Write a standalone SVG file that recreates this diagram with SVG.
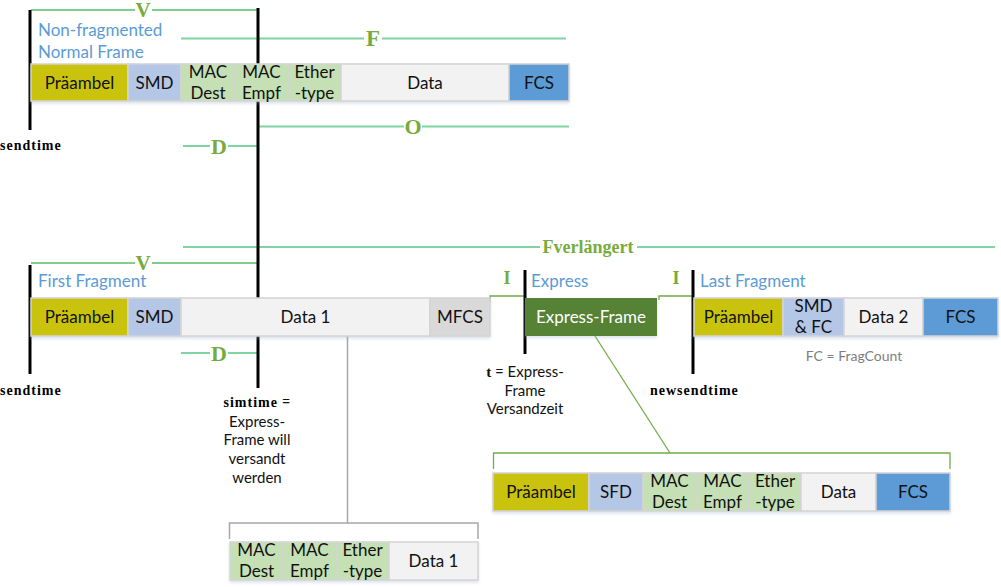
<svg xmlns="http://www.w3.org/2000/svg" width="1001" height="587" viewBox="0 0 1001 587">
<style>
.cell{stroke:#D4D4D4;stroke-width:1.5}
.pre{fill:#C9C30A}.smd{fill:#B4C7E7}.mac{fill:#C5E0B4}.dat{fill:#F2F2F2}.fcs{fill:#5B9BD5}.mfcs{fill:#D9D9D9}.exp{fill:#548235}
.t{font-family:Lato,"Liberation Sans",sans-serif;font-size:17px;fill:#111;text-anchor:middle}
.tw{font-family:Lato,"Liberation Sans",sans-serif;font-size:17px;fill:#fff;text-anchor:middle}
.blue{font-family:Lato,"Liberation Sans",sans-serif;font-size:17px;fill:#5B9BD5}
.lbl{font-family:"Liberation Serif",serif;font-weight:bold;fill:#77AC3C;text-anchor:middle}
.st{font-family:"Liberation Serif",serif;font-weight:bold;font-size:14px;fill:#000;letter-spacing:1px}
.note{font-family:Lato,"Liberation Sans",sans-serif;font-size:15px;fill:#111;text-anchor:middle}
.bar{stroke:#000;stroke-width:3}
.mint{stroke:#80D4A0;stroke-width:2;fill:none}
.dk{stroke:#52BE6A;stroke-width:1.5;fill:none}
.ol{stroke:#70AD47;stroke-width:1.3;fill:none}
.gr{stroke:#A6A6A6;stroke-width:1.5;fill:none}
.gap{fill:#fff}
</style>
<defs>
<filter id="sh" x="-5%" y="-20%" width="110%" height="150%"><feDropShadow dx="0" dy="2" stdDeviation="1.5" flood-color="#9DB3D0" flood-opacity="0.35"/></filter>
</defs>

<g id="connectors">
<line class="dk" x1="31" y1="10" x2="257" y2="10"/>
<line class="mint" x1="181" y1="38.5" x2="566" y2="38.5"/>
<line class="mint" x1="258" y1="126.5" x2="569" y2="126.5"/>
<line class="mint" x1="183" y1="146" x2="258" y2="146"/>
<line class="mint" x1="183" y1="247" x2="995" y2="247"/>
<line class="dk" x1="31" y1="263" x2="257" y2="263"/>
<line class="mint" x1="181" y1="353" x2="258" y2="353"/>
<polyline class="ol" points="490,302 490,296 524,296"/>
<polyline class="ol" points="659,300 659,296 692,296"/>
<line class="gr" x1="347.5" y1="336" x2="347.5" y2="523"/>
<polyline class="gr" points="229.5,539 229.5,523 478,523 478,539"/>
<line class="ol" x1="595" y1="336" x2="670" y2="453"/>
<polyline class="ol" points="493.5,469 493.5,453 950,453 950,469"/>
<line class="bar" x1="30" y1="10" x2="30" y2="130"/>
<line class="bar" x1="258" y1="8" x2="258" y2="388"/>
<line class="bar" x1="30" y1="265" x2="30" y2="374"/>
<line class="bar" x1="525" y1="270" x2="525" y2="354"/>
<line class="bar" x1="693" y1="270" x2="693" y2="374"/>
</g>

<g id="labels">
<rect class="gap" x="135" y="1" width="17" height="18"/>
<text class="lbl" x="143" y="17" font-size="21">V</text>
<rect class="gap" x="364" y="28" width="18" height="20"/>
<text class="lbl" x="373" y="46" font-size="23">F</text>
<rect class="gap" x="404" y="116" width="18" height="20"/>
<text class="lbl" x="413" y="134" font-size="22">O</text>
<rect class="gap" x="210" y="136" width="18" height="20"/>
<text class="lbl" x="219" y="154" font-size="22">D</text>
<rect class="gap" x="540" y="238" width="97" height="18"/>
<text class="lbl" x="588" y="253" font-size="18">Fverlängert</text>
<rect class="gap" x="135" y="254" width="17" height="18"/>
<text class="lbl" x="143" y="270" font-size="21">V</text>
<rect class="gap" x="210" y="343" width="18" height="20"/>
<text class="lbl" x="219" y="361" font-size="22">D</text>
<text class="lbl" x="507" y="284" font-size="18">I</text>
<text class="lbl" x="676" y="284" font-size="18">I</text>
<text class="st" x="0" y="150">sendtime</text>
<text class="st" x="0" y="395">sendtime</text>
<text class="st" x="650" y="395">newsendtime</text>
<text class="note" x="257" y="407"><tspan class="st">simtime</tspan> =</text>
<text class="note" x="257" y="427">Express-</text>
<text class="note" x="257" y="445">Frame will</text>
<text class="note" x="257" y="464">versandt</text>
<text class="note" x="257" y="483">werden</text>
<text class="note" x="525" y="377"><tspan font-family="Liberation Serif,serif" font-weight="bold">t</tspan> = Express-</text>
<text class="note" x="525" y="396">Frame</text>
<text class="note" x="525" y="414">Versandzeit</text>
<text class="blue" x="38" y="36">Non-fragmented</text>
<text class="blue" x="38" y="58">Normal Frame</text>
<text class="blue" x="38" y="287">First Fragment</text>
<text class="blue" x="531" y="287">Express</text>
<text class="blue" x="700" y="287">Last Fragment</text>
<text x="854" y="361" font-family="Lato,'Liberation Sans',sans-serif" font-size="14" fill="#808080" text-anchor="middle">FC = FragCount</text>
</g>

<g id="normal-frame" filter="url(#sh)">
<rect class="cell pre" x="31" y="64" width="97" height="37"/>
<rect class="cell smd" x="128" y="64" width="53" height="37"/>
<rect class="cell mac" x="181" y="64" width="54" height="37"/>
<rect class="cell mac" x="235" y="64" width="53" height="37"/>
<rect class="cell mac" x="288" y="64" width="53" height="37"/>
<rect class="cell dat" x="341" y="64" width="168" height="37"/>
<rect class="cell fcs" x="509" y="64" width="60" height="37"/>
</g>
<g id="normal-frame-text">
<text class="t" x="79.5" y="89">Präambel</text>
<text class="t" x="154.5" y="89">SMD</text>
<text class="t" x="208" y="78">MAC</text><text class="t" x="208" y="99">Dest</text>
<text class="t" x="261.5" y="78">MAC</text><text class="t" x="261.5" y="99">Empf</text>
<text class="t" x="314.5" y="78">Ether</text><text class="t" x="314.5" y="99">-type</text>
<text class="t" x="425" y="89">Data</text>
<text class="t" x="539" y="89">FCS</text>
</g>

<g id="first-fragment" filter="url(#sh)">
<rect class="cell pre" x="31" y="298" width="97" height="38"/>
<rect class="cell smd" x="128" y="298" width="53" height="38"/>
<rect class="cell dat" x="181" y="298" width="249" height="38"/>
<rect class="cell mfcs" x="430" y="298" width="60" height="38"/>
</g>
<g id="first-fragment-text">
<text class="t" x="79.5" y="323">Präambel</text>
<text class="t" x="154.5" y="323">SMD</text>
<text class="t" x="305.5" y="323">Data 1</text>
<text class="t" x="460" y="323">MFCS</text>
</g>

<g id="express-frame">
<rect class="exp" x="525" y="298" width="132" height="38" filter="url(#sh)"/>
<text class="tw" x="591" y="323">Express-Frame</text>
</g>

<g id="last-fragment" filter="url(#sh)">
<rect class="cell pre" x="694" y="298" width="89" height="38"/>
<rect class="cell smd" x="783" y="298" width="61" height="38"/>
<rect class="cell dat" x="844" y="298" width="79" height="38"/>
<rect class="cell fcs" x="923" y="298" width="75" height="38"/>
</g>
<g id="last-fragment-text">
<text class="t" x="738.5" y="323">Präambel</text>
<text class="t" x="813.5" y="312">SMD</text><text class="t" x="813.5" y="333">&amp; FC</text>
<text class="t" x="883.5" y="323">Data 2</text>
<text class="t" x="960.5" y="323">FCS</text>
</g>

<g id="data1-detail" filter="url(#sh)">
<rect class="cell mac" x="230" y="542" width="53" height="38"/>
<rect class="cell mac" x="283" y="542" width="53" height="38"/>
<rect class="cell mac" x="336" y="542" width="53" height="38"/>
<rect class="cell dat" x="389" y="542" width="89" height="38"/>
</g>
<g id="data1-detail-text">
<text class="t" x="256.5" y="556">MAC</text><text class="t" x="256.5" y="577">Dest</text>
<text class="t" x="309.5" y="556">MAC</text><text class="t" x="309.5" y="577">Empf</text>
<text class="t" x="362.5" y="556">Ether</text><text class="t" x="362.5" y="577">-type</text>
<text class="t" x="433.5" y="567">Data 1</text>
</g>

<g id="express-detail" filter="url(#sh)">
<rect class="cell pre" x="493" y="473" width="96" height="38"/>
<rect class="cell smd" x="589" y="473" width="54" height="38"/>
<rect class="cell mac" x="643" y="473" width="53" height="38"/>
<rect class="cell mac" x="696" y="473" width="53" height="38"/>
<rect class="cell mac" x="749" y="473" width="52" height="38"/>
<rect class="cell dat" x="801" y="473" width="75" height="38"/>
<rect class="cell fcs" x="876" y="473" width="74" height="38"/>
</g>
<g id="express-detail-text">
<text class="t" x="541" y="498">Präambel</text>
<text class="t" x="616" y="498">SFD</text>
<text class="t" x="669.5" y="487">MAC</text><text class="t" x="669.5" y="508">Dest</text>
<text class="t" x="722.5" y="487">MAC</text><text class="t" x="722.5" y="508">Empf</text>
<text class="t" x="775" y="487">Ether</text><text class="t" x="775" y="508">-type</text>
<text class="t" x="838.5" y="498">Data</text>
<text class="t" x="913" y="498">FCS</text>
</g>
</svg>
